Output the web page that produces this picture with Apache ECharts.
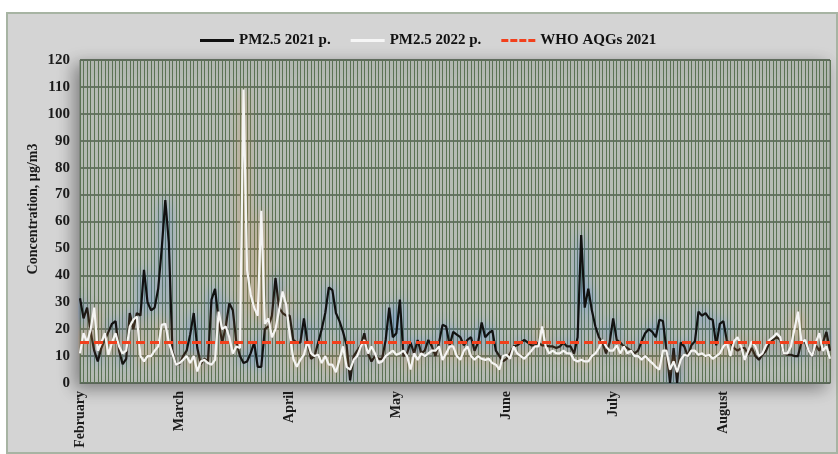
<!DOCTYPE html>
<html>
<head>
<meta charset="utf-8">
<script src="https://cdn.jsdelivr.net/npm/echarts@6/dist/echarts.min.js"></script>
<style>html,body{margin:0;padding:0;background:#fff}#c{width:838px;height:454px}</style>
</head>
<body>
<div id="c"></div>
<script>
const months = ['February','March','April','May','June','July','August'];
const monthDays = [28,31,30,31,30,31,31];
const pm2021 = [
 31.5,24,28,19,12,8,13,16,19,22,
 23,12,7,9,26,20,26,25,42,30,
 27,28,35,50,68,52,12,7,7,10,
 12,18,26,13,7,9,8,31,35,23,
 15,21,29.6,27,15,10,7.4,8,11,15,
 6,6,20,21,25,39,28,26,25,25,
 16,15,15,24,15,9,10,15,20,26,
 35.5,34.5,26,23,19,14,1,10,12,14,
 18.5,11,8,10,9,9,16,28,17,18.5,
 31,10,11,15,11,16,11,12,16,13.6,
 10,15,21.6,21,14,19,18,17,14,16,
 17,12,15,22.5,17,18.5,19.5,12,10,8,
 9,11,13.6,14,15,16,15,14,14,15,
 14,14,13.6,13.6,13,13.6,15,13.6,13.6,11,
 17,55,28,35,27,21,17,15,11,15,
 24,16,15,13.6,13,12,11,12,15.5,18.5,
 20,19,17,23.5,23,12,0,13,0,15,
 13.6,10,14,15.5,26.5,25,26,24,23.5,14,
 22,23,15.5,15,13,12,13,13,10.5,13,
 10,8.6,10.5,12,15,16,17,16,11,10.5,
 10.5,10,10,15.5,15,12,10,14,12,15,
 19,12
];
const pm2022 = [
 11,18.5,15,20,28,12,15,18.5,10.5,15,
 18.5,13.6,11,12,21,23.5,24.7,10,8,10,
 10,12,13.6,21.6,22,15,11,6.8,7.4,8.6,
 10,7.4,10,4.3,8,8.6,7.4,6.8,8.6,26.5,
 20,21,17,11,13.6,13,109,42,33,28,
 25,64,22,24,17,20,27,34,29,18,
 9,6,8.6,10.5,15.5,11,10,10.5,7.4,10,
 6.8,6.8,4,8.6,13.6,6,5,8.6,10,13.6,
 16,11,13.6,11,7.4,8,10,11,12,10.5,
 11,12,10,5,11,8.6,11,10,11,12,
 12,13.6,8.6,11,13.6,13.6,10,8.6,12,13.6,
 10,8.6,10,9,8.6,9,7.4,6.8,5,10,
 10.5,9,13.6,11,10,9,10.5,12,13.6,13.6,
 21,13.6,11,12,11,11,12,11,11,8.6,
 8,8.6,8,8,10,11,13,16,13.6,12,
 12,14,11,13.6,11,12,10,10,8.6,10,
 8.6,7.4,6,5,12,12,5,8,4,8.6,
 10.5,10,12,12,10.5,11,10,10.5,9,10,
 11,13.6,15,10,15.5,17,13.6,8.6,12,15.5,
 13.6,10,11,14,16,17,18.5,17,11,11,
 13.6,20,26.5,15,16,12,10,15,18.5,12,
 13.6,9
];
const whoLimit = 15;
const yTicks = {min:0, max:120, interval:10};
const seriesNames = ['PM2.5 2021 p.','PM2.5 2022 p.','WHO AQGs 2021'];
const yAxisTitle = 'Concentration, µg/m3';

// build categories (day labels) and month-start lookup
const categories = [];
const monthStart = {};
months.forEach((m, mi) => {
  monthStart[categories.length] = m;
  for (let d = 1; d <= monthDays[mi]; d++) categories.push(m + ' ' + d);
});

const serif = 'Liberation Serif';
const solidIcon = 'path://M0,0 L34,0 L34,3 L0,3 Z';
const dashIcon = 'path://M0,0h7v3h-7z M9,0h7v3h-7z M18,0h7v3h-7z M27,0h7v3h-7z';
const chart = echarts.init(document.getElementById('c'), null, {renderer:'canvas'});
chart.setOption({
  animation: false,
  backgroundColor: '#ffffff',
  graphic: [
    {type:'rect', z:-10, shape:{x:7,y:13,width:830,height:440},
     style:{fill:'#d4d4d4', stroke:'#a7b4a3', lineWidth:2}},
    {type:'text', z:10, x:33, y:209, rotation:Math.PI/2,
     style:{text:yAxisTitle, font:'bold 14px "Liberation Serif"', fill:'#1a1a1a',
            textAlign:'center', textVerticalAlign:'middle'}}
  ],
  legend: {
    top: 28, left: 195,
    itemWidth: 34, itemHeight: 3, itemGap: 20,
    textStyle: {fontFamily: serif, fontWeight: 'bold', fontSize: 15, color: '#111'},
    data: [
      {name: seriesNames[0], icon: solidIcon},
      {name: seriesNames[1], icon: solidIcon},
      {name: seriesNames[2], icon: dashIcon}
    ]
  },
  grid: {
    left: 80, right: 8, top: 60, bottom: 71,
    show: true, backgroundColor: '#b5bbb4', borderColor: '#6a7468', borderWidth: 1,
    shadowBlur: 16, shadowColor: 'rgba(0,0,0,0.4)', shadowOffsetX: -5, shadowOffsetY: 5
  },
  xAxis: {
    type: 'category', boundaryGap: false, data: categories,
    axisLine: {show: true, lineStyle: {color: '#5a6658', width: 1}},
    axisTick: {show: false},
    axisLabel: {
      interval: (idx) => monthStart[idx] !== undefined,
      formatter: (v, idx) => monthStart[idx] || '',
      rotate: 90, margin: 8,
      fontFamily: serif, fontWeight: 'bold', fontSize: 14, color: '#1a1a1a'
    },
    splitLine: {show: true, interval: 0, lineStyle: {color: '#5b7354', width: 1}}
  },
  yAxis: {
    type: 'value', min: yTicks.min, max: yTicks.max, interval: yTicks.interval,
    axisLine: {show: false}, axisTick: {show: false},
    axisLabel: {fontFamily: serif, fontWeight: 'bold', fontSize: 15, color: '#1a1a1a', margin: 10},
    splitLine: {show: true, lineStyle: {color: '#4e5c4b', width: 1.5}}
  },
  series: [
    {name: seriesNames[0], type: 'line', data: pm2021, symbol: 'none', z: 3,
     itemStyle: {color: '#111'},
     lineStyle: {color: '#111', width: 2.2, shadowBlur: 12, shadowColor: 'rgba(70,130,215,0.9)'}},
    {name: seriesNames[1], type: 'line', data: pm2022, symbol: 'none', z: 4,
     itemStyle: {color: '#f6f6f6'},
     lineStyle: {color: '#f4f4f2', width: 2.2, shadowBlur: 12, shadowColor: 'rgba(215,145,75,0.85)'}},
    {name: seriesNames[2], type: 'line', data: [], symbol: 'none', z: 5,
     itemStyle: {color: '#f2401c'},
     lineStyle: {color: '#f2401c', width: 3, type: [9,5]},
     markLine: {silent: true, symbol: 'none', label: {show: false},
       lineStyle: {color: '#f2401c', width: 3, type: [9,5]},
       data: [{yAxis: whoLimit}]}}
  ]
});
</script>
</body>
</html>
